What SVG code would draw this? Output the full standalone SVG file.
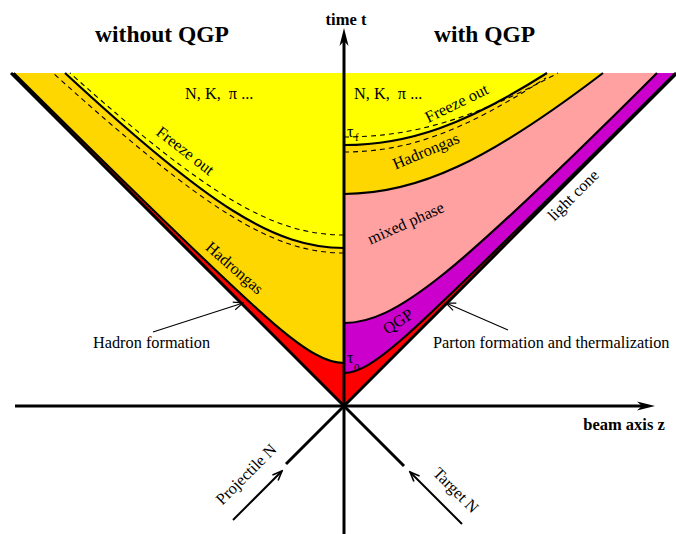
<svg xmlns="http://www.w3.org/2000/svg" width="676" height="534" viewBox="0 0 676 534">
<defs>
<marker id="open1" markerUnits="userSpaceOnUse" markerWidth="12" markerHeight="12" refX="10" refY="5" orient="auto"><path d="M0.5,1 L10,5 L0.5,9" fill="none" stroke="#000" stroke-width="1.1"/></marker>
<marker id="open2" markerUnits="userSpaceOnUse" markerWidth="12" markerHeight="12" refX="10" refY="5" orient="auto"><path d="M0.5,1 L10,5 L0.5,9" fill="none" stroke="#000" stroke-width="1.6"/></marker>
<marker id="head" markerUnits="userSpaceOnUse" markerWidth="20" markerHeight="10" refX="5" refY="5" orient="auto"><path d="M0,0.5 L18,5 L0,9.5 L5,5 Z" fill="#000"/></marker>
</defs>
<style>
text{font-family:"Liberation Serif","Times New Roman",serif;fill:#000}
.t{font-size:16.3px}
.b{font-weight:bold}
.h{font-size:23.5px;font-weight:bold}
.c{fill:none;stroke:#000;stroke-width:2.2}
.d{fill:none;stroke:#000;stroke-width:1.1;stroke-dasharray:5 4}
.ax{fill:none;stroke:#000;stroke-width:3}
.lc{fill:none;stroke:#000;stroke-width:3}
.ar1{fill:none;stroke:#000;stroke-width:1.1}
.ar2{fill:none;stroke:#000;stroke-width:2}
.red{fill:#FF0000}
.gold{fill:#FFD700}
.yel{fill:#FFFF00}
.pink{fill:#FFA1A1}
.mag{fill:#CC00CC}
</style>

<g id="regions-left">
<path class="red" d="M344,406 L11,73 L344,73 Z"/>
<path class="gold" d="M344,363 C326.7,363 307.1,352 274,323.8 C239.5,294.4 153.6,211.6 13.8,73 L344,73 Z"/>
<path class="yel" d="M344,248 C275.2,248 209.9,207.1 65,73 L344,73 Z"/>
</g>
<g id="regions-right">
<path class="red" d="M344,406 L677,73 L344,73 Z"/>
<path class="mag" d="M344,373 C358,373 374.8,363.1 404,337.5 C435,310.4 524.4,223.1 675.4,73 L344,73 Z"/>
<path class="pink" d="M344,323 C395,323 452.6,277 657,73 L344,73 Z"/>
<path class="gold" d="M344,194 C417.6,194 487.5,161.3 603,73 L344,73 Z"/>
<path class="yel" d="M344,145 C408.4,145 465.2,124.8 547,73 L344,73 Z"/>
</g>

<g id="curves">
<path class="c" d="M344,363 C326.7,363 307.1,352 274,323.8 C239.5,294.4 153.6,211.6 13.8,73"/>
<path class="c" d="M344,248 C275.2,248 209.9,207.1 65,73"/>
<path class="d" d="M344,235 C273.3,235 207.6,196.1 70,73"/>
<path class="d" d="M344,253 C273.4,253 206.5,211.6 53,73"/>
<path class="c" d="M344,373 C358,373 374.8,363.1 404,337.5 C435,310.4 524.4,223.1 675.4,73"/>
<path class="c" d="M344,323 C395,323 452.6,277 657,73"/>
<path class="c" d="M344,194 C417.6,194 487.5,161.3 603,73"/>
<path class="c" d="M344,145 C408.4,145 465.2,124.8 547,73"/>
<path class="d" d="M344,137 C412.8,137 472.7,119.1 558,73"/>
<path class="d" d="M344,152 C408,152 464,131 546,78"/>
</g>

<g id="light-cone">
<path class="lc" d="M344,406 L11,73"/>
<path class="lc" d="M344,406 L677,73"/>
<path class="lc" d="M344,406 L286,464"/>
<path class="lc" d="M344,406 L404,466"/>
</g>

<g id="axes">
<path class="ax" d="M344,534 L344,41" marker-end="url(#head)"/>
<path class="ax" d="M15,406 L642,406" marker-end="url(#head)"/>
</g>

<g id="connectors">
<path class="ar1" d="M153,332 L243,303" marker-end="url(#open1)"/>
<path class="ar1" d="M508,330 L446,303" marker-end="url(#open1)"/>
<path class="ar2" d="M233,520 L282,471" marker-end="url(#open2)"/>
<path class="ar2" d="M462,524 L410,472" marker-end="url(#open2)"/>
</g>

<g id="titles">
<text class="h" x="162" y="42" text-anchor="middle">without QGP</text>
<text class="h" x="484.5" y="42" text-anchor="middle">with QGP</text>
<text class="b" x="346" y="25" text-anchor="middle" font-size="16.5">time t</text>
<text class="b" x="624" y="430" text-anchor="middle" font-size="16.5">beam axis z</text>
</g>

<g id="labels-left">
<text class="t" x="185" y="99" font-size="18" xml:space="preserve">N, K,  π ...</text>
<text class="t" transform="translate(182,155) rotate(38)" text-anchor="middle">Freeze out</text>
<text class="t" transform="translate(231,272) rotate(41)" text-anchor="middle">Hadrongas</text>
<text class="t" x="93" y="348">Hadron formation</text>
</g>

<g id="labels-right">
<text class="t" x="354" y="99" font-size="18" xml:space="preserve">N, K,  π ...</text>
<text class="t" transform="translate(459,108) rotate(-26)" text-anchor="middle">Freeze out</text>
<text class="t" transform="translate(428,156) rotate(-23)" text-anchor="middle">Hadrongas</text>
<text class="t" transform="translate(408,228) rotate(-24)" text-anchor="middle">mixed phase</text>
<text class="t" transform="translate(401,326) rotate(-34)" text-anchor="middle">QGP</text>
<text class="t" transform="translate(577,199) rotate(-45)" text-anchor="middle" font-size="15.5">light cone</text>
<text class="t" x="347" y="137">τ</text><text x="355" y="141" font-size="11">f</text>
<text class="t" x="347" y="363">τ</text><text x="354" y="371" font-size="11">0</text>
<text class="t" x="433" y="348">Parton formation and thermalization</text>
</g>

<g id="labels-bottom">
<text class="t" transform="translate(250,478) rotate(-45)" text-anchor="middle">Projectile N</text>
<text class="t" transform="translate(452,494) rotate(45)" text-anchor="middle">Target N</text>
</g>
</svg>
